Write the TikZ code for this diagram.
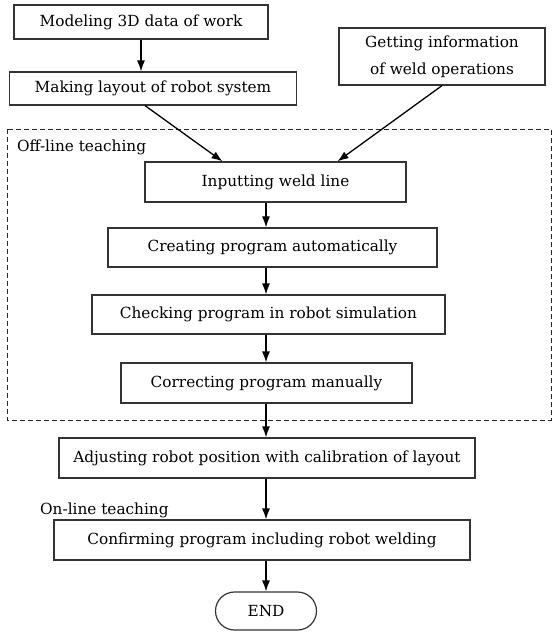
\documentclass[tikz,border=0pt]{standalone}
\usepackage{fontspec}
\setmainfont{DejaVu Serif}
\usetikzlibrary{arrows.meta,shapes.misc,calc}
\begin{document}
\begin{tikzpicture}[x=1pt,y=-1pt,
  font=\fontsize{15.3}{27}\selectfont,
  stepbox/.style={draw=black!80,line width=1.2pt,rectangle,inner sep=0pt,align=center},
  flow/.style={line width=1.3pt,-{Latex[length=11pt,width=8pt]}},
  region/.style={draw=black!85,line width=1pt,dash pattern=on 5pt off 3pt}]
\useasboundingbox (0,0) rectangle (553,632);

% preparation steps
\node[stepbox,minimum width=254pt,minimum height=34pt] (model) at (141,22) {Modeling 3D data of work};
\node[stepbox,minimum width=287pt,minimum height=33pt] (layout) at (153,88.5) {Making layout of robot system};
\node[stepbox,minimum width=206pt,minimum height=57pt] (weldinfo) at (442,56.5) {Getting information\\of weld operations};

% off-line teaching region
\draw[region] (7,129) rectangle (551,420);
\node[anchor=west,inner sep=0pt] (offline) at (17,147) {Off-line teaching};

\node[stepbox,minimum width=261pt,minimum height=40pt] (input) at (275.5,182) {Inputting weld line};
\node[stepbox,minimum width=329pt,minimum height=39pt] (create) at (272.5,247.5) {Creating program automatically};
\node[stepbox,minimum width=353pt,minimum height=39pt] (check) at (268.5,314.5) {Checking program in robot simulation};
\node[stepbox,minimum width=291pt,minimum height=40pt] (correct) at (266.5,383) {Correcting program manually};

% calibration and on-line teaching
\node[stepbox,minimum width=416pt,minimum height=40pt] (adjust) at (267,458) {Adjusting robot position with calibration of layout};
\node[anchor=west,inner sep=0pt] (online) at (40,510) {On-line teaching};
\node[stepbox,minimum width=416pt,minimum height=40pt] (confirm) at (262,540) {Confirming program including robot welding};
\node[draw=black!80,line width=1.2pt,rounded rectangle,minimum width=101pt,minimum height=38pt,inner sep=0pt] (end) at (266,611) {END};

% connectors
\draw[flow] (model.south) -- (layout.north -| model.south);
\draw[flow] ([xshift=-8pt]layout.south) -- ([xshift=-53pt]input.north);
\draw[flow] (weldinfo.south) -- ([xshift=62pt]input.north);
\draw[flow] (input.south -| 266,0) -- (create.north -| 266,0);
\draw[flow] (create.south -| 266,0) -- (check.north -| 266,0);
\draw[flow] (check.south -| 266,0) -- (correct.north -| 266,0);
\draw[flow] (correct.south -| 266,0) -- (adjust.north -| 266,0);
\draw[flow] (adjust.south -| 266,0) -- (confirm.north -| 266,0);
\draw[flow] (confirm.south -| 266,0) -- (end.north);
\end{tikzpicture}
\end{document}
